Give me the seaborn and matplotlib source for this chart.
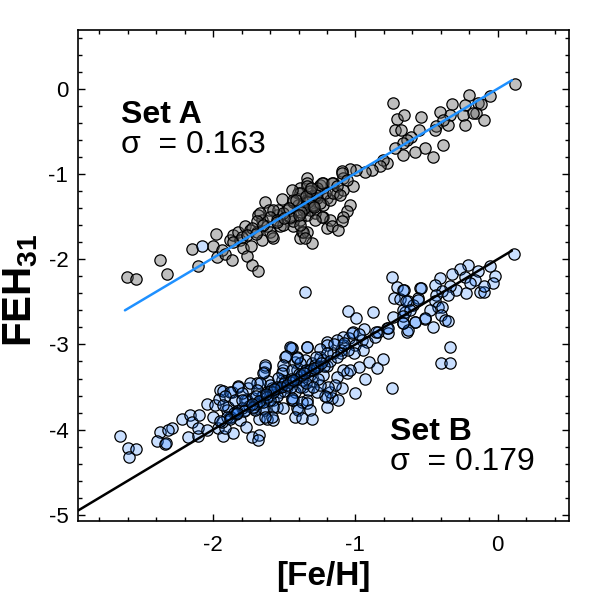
import matplotlib
matplotlib.use("Agg")
import matplotlib.pyplot as plt
import seaborn as sns
import pandas as pd
from matplotlib.ticker import MultipleLocator

# ---------------- data ----------------
setA_x = [-2.606, -2.543, -2.372, -2.325, -2.15, -2.107, -2.002, -1.981, -1.97, -1.939, -1.916, -1.869,
          -1.881, -1.857, -1.822, -1.81, -1.787, -1.764, -1.728, -1.682, -1.733, -1.775, -1.74, -1.693,
          -1.658, -1.682, -1.658, -1.635, -1.623, -1.6, -1.581, -1.605, -1.553, -1.542, -1.518, -1.53,
          -1.483, -1.46, -1.441, -1.436, -1.401, -1.389, -1.342, -1.342, -1.378, -1.342, -1.319, -1.389,
          -1.378, -1.389, -1.342, -1.307, -1.296, -1.261, -1.25, -1.226, -1.20, -1.202,
          0.119, -0.051, -0.204, -0.232, -0.138, -0.115, -0.15, -0.174, -0.243, -0.098, -0.227, -0.318,
          -0.337, -0.349, -0.407, -0.384, -0.43, -0.442, -0.384, -0.453, -0.512, -0.582, -0.54, -0.554,
          -0.606, -0.64, -0.665, -0.665, -0.723, -0.739, -0.711, -0.66, -0.723, -0.681, -0.781, -0.805,
          -0.828, -0.882, -0.933, -0.996, -1.039, -1.097, -1.086, -1.015, -1.226, -1.156, -1.132, -1.086,
          -1.342, -1.389, -1.319, -1.401, -1.366, -1.284, -1.226, -1.179, -1.214, -1.272, -1.237, -1.167,
          -1.156, -1.132, -1.097, -1.06, -1.109, -1.039, -1.062, -1.086, -1.097, -1.179, -1.237, -1.167,
          -1.121, -1.366, -1.354, -1.436, -1.46, -1.507, -1.577, -1.6, -1.507, -1.553, -1.67, -1.693,
          -1.728, -1.588, -1.307, -1.272, -1.342, -1.284, -1.389, -1.436, -1.448, -1.296,
          -1.33, -1.30, -1.36, -1.28, -1.32, -1.25, -1.38, -1.42, -1.35, -1.29, -1.40, -1.31,
          -1.86, -1.80, -1.76, -1.70, -1.65, -1.55, -1.50, -1.47]
setA_y = [-2.21, -2.234, -2.015, -2.168, -1.88, -2.085, -1.843, -1.71, -1.976, -1.89, -1.94, -2.007,
          -1.772, -1.714, -1.675, -1.772, -1.87, -1.968, -2.066, -2.136, -1.843, -1.616, -1.655, -1.675,
          -1.772, -1.479, -1.538, -1.323, -1.616, -1.675, -1.752, -1.42, -1.479, -1.42, -1.291, -1.616,
          -1.42, -1.518, -1.616, -1.323, -1.224, -1.166, -1.048, -1.10, -1.38, -1.30, -1.42, -1.538,
          -1.675, -1.752, -1.675, -1.811, -1.28, -1.205, -1.13, -1.5, -1.28, -1.635,
          0.055, -0.09, -0.078, -0.188, -0.168, -0.18, -0.285, -0.28, -0.305, -0.364, -0.43, -0.18,
          -0.305, -0.43, -0.274, -0.364, -0.442, -0.48, -0.665, -0.80, -0.696, -0.743, -0.336, -0.489,
          -0.56, -0.6, -0.64, -0.78, -0.696, -0.168, -0.352, -0.313, -0.48, -0.489, -0.872, -0.833,
          -0.904, -0.951, -0.982, -0.951, -0.939, -0.97, -1.05, -1.135, -1.107, -1.107, -1.225, -1.185,
          -1.146, -1.224, -1.303, -1.362, -1.42, -1.459, -1.362, -1.303, -1.224, -1.166, -1.107, -1.107,
          -1.224, -1.146, -0.989, -1.07, -1.244, -1.362, -1.44, -1.499, -1.557, -1.538, -1.499, -1.616,
          -1.663, -1.675, -1.752, -1.557, -1.499, -1.459, -1.42, -1.499, -1.596, -1.538, -1.459, -1.557,
          -1.635, -1.733, -1.264, -1.283, -1.479, -1.538, -1.596, -1.303, -1.185, -1.38,
          -1.33, -1.36, -1.40, -1.25, -1.20, -1.34, -1.45, -1.30, -1.26, -1.39, -1.48, -1.17,
          -1.80, -1.74, -1.72, -1.70, -1.60, -1.56, -1.52, -1.40]

setB_x = [-2.08, -1.354,
          -2.653, -2.601, -2.54, -2.594, -2.377, -2.395, -2.337, -2.33, -2.29, -2.314, -2.22, -2.161,
          -2.15, -2.098, -2.178, -2.107, -2.103, -2.044, -2.04, -1.986, -1.998, -1.963, -1.932, -1.862,
          -1.916, -1.939, -1.951, -1.956, -1.928, -1.869, -1.822, -1.893, -1.876, -1.834, -1.81, -1.768,
          -1.728, -1.675, -1.682, -1.752, -1.764, -1.717, -1.693, -1.67, -1.647, -1.635, -1.675, -1.623,
          -1.581, -1.635, -1.64, -1.612, -1.588, -1.577, -1.553, -1.53, -1.507, -1.495, -1.455, -1.518,
          -1.483, -1.448, -1.436, -1.413, -1.413, -1.425,
          -0.746, -0.711, -0.66, -0.547, -0.73, -0.688, -0.629, -0.559, -0.653, -0.582, -0.512, -0.735,
          -0.665, -0.637, -1.055, -0.879, -0.996, -0.94, -1.015, -1.046, -0.956, -0.921, -0.863, -0.84,
          -0.781, -0.77, -1.004, -0.95, -1.008, -1.086, -1.104, -1.05, -0.903, -0.847, -0.805, -0.975,
          -0.933, -1.004, -0.746, -1.097, -1.062, -1.086, -1.04, -1.132, -1.202, -1.167, -1.121, -1.179,
          -1.144, -1.191, -1.202, -1.156, -1.226, -1.261, -1.342, -1.448, -1.413, -1.354, -1.307, -1.319,
          -1.389, -1.366, -1.425, -1.342, -1.436, -1.086, -1.132, -1.027, -0.975, -0.854, -0.77, -0.665,
          -0.594,
          0.114, -0.051, -0.021, -0.033, -0.138, -0.161, -0.126, -0.098, -0.096, -0.208, -0.267, -0.318,
          -0.232, -0.196, -0.225, -0.29, -0.337, -0.407, -0.442, -0.388, -0.349, -0.43, -0.442, -0.419,
          -0.39, -0.477, -0.395, -0.372, -0.349, -0.453, -0.512, -0.582, -0.559, -0.542, -0.665, -0.641,
          -0.617, -0.665, -0.63, -0.665, -0.337, -0.395, -0.337,
          -1.46, -1.342, -1.488, -1.635, -1.647, -1.507, -1.518, -1.448, -1.389, -1.342, -1.284, -1.249,
          -1.202, -1.226, -1.307, -1.378, -1.436, -1.495, -1.542, -1.6, -1.67, -1.74, -1.822, -1.881,
          -1.916, -1.846, -1.775, -1.717, -1.658, -1.6, -1.448, -1.378, -1.342, -1.319, -1.401, -1.425,
          -1.378, -1.307, -1.507, -1.577, -1.647, -1.705, -1.775, -1.834, -1.904, -1.928, -1.881, -1.588,
          -1.635, -1.202, -1.202, -1.214, -1.389, -1.33, -1.272, -1.249, -1.413, -1.542, -1.693, -1.80,
          -1.25, -1.2, -1.15, -1.1, -1.18, -1.13, -1.22, -1.28, -1.08, -1.3, -1.26, -1.35, -1.3, -1.45,
          -1.5, -1.55, -1.6, -1.65, -1.7, -1.75, -1.8, -1.85, -1.9, -1.95, -1.6, -1.5, -1.4, -1.45,
          -1.55, -1.7, -1.8, -1.35,
          -1.58, -1.52, -1.46, -1.42, -1.38, -1.32, -1.27, -1.62, -1.68, -1.72, -1.78, -1.84, -1.88,
          -1.48, -1.44, -1.36, -1.29, -1.24, -1.57, -1.63, -1.73, -1.83]
setB_y = [-1.84, -2.39,
          -4.073, -4.217, -4.229, -4.316, -4.022, -4.128, -4.167, -4.16, -3.983, -4.003, -3.873, -3.834,
          -3.912, -3.826, -4.088, -4.073, -3.983, -4.003, -3.70, -3.709, -3.846, -3.983, -4.073, -4.034,
          -3.983, -3.905, -3.533, -3.638, -3.541, -3.553, -3.486, -3.729, -3.846, -3.806, -3.885, -3.964,
          -4.081, -4.061, -4.12, -3.513, -3.65, -3.748, -3.455, -3.67, -3.592, -3.768, -3.877, -3.877,
          -3.885, -3.26, -3.326, -3.435, -3.513, -3.65, -3.729, -3.553, -3.298, -3.142, -3.044, -3.416,
          -3.494, -3.65, -3.435, -3.748, -3.298, -3.201,
          -2.203, -2.328, -2.359, -2.339, -2.457, -2.465, -2.496, -2.457, -2.614, -2.738, -2.70, -2.68,
          -2.75, -2.849, -2.602, -2.614, -2.691, -2.817, -2.849, -2.919, -2.946, -2.966, -2.914, -2.849,
          -2.809, -2.868, -3.005, -3.063, -3.103, -3.005, -3.063, -3.071, -3.212, -3.278, -3.173, -3.267,
          -3.407, -3.565, -3.513, -3.506, -3.337, -3.298, -3.298, -3.377, -3.619, -3.631, -3.65, -3.553,
          -3.474, -3.494, -2.966, -3.103, -3.181, -3.259, -3.032, -3.044, -3.142, -3.181, -3.22, -3.357,
          -3.377, -3.494, -3.553, -3.65, -3.65, -2.914, -2.946, -2.868, -2.88, -2.85, -2.81, -2.594,
          -2.535,
          -1.937, -2.077, -2.195, -2.28, -2.144, -2.242, -2.379, -2.39, -2.312, -2.066, -2.116, -2.175,
          -2.203, -2.28, -2.398, -2.359, -2.32, -2.222, -2.30, -2.371, -2.418, -2.418, -2.496, -2.555,
          -2.56, -2.594, -2.653, -2.711, -2.72, -2.79, -2.691, -2.742, -2.477, -2.339, -2.359, -2.496,
          -2.594, -2.672, -2.829, -2.75, -3.032, -3.22, -3.22,
          -3.032, -3.025, -3.134, -3.239, -3.33, -3.239, -3.337, -3.298, -3.22, -3.318, -3.239, -3.142,
          -3.259, -3.357, -3.435, -3.416, -3.435, -3.435, -3.513, -3.474, -3.455, -3.455, -3.494, -3.553,
          -3.611, -3.65, -3.65, -3.631, -3.611, -3.592, -3.631, -3.67, -3.689, -3.768, -3.768, -3.846,
          -3.865, -3.877, -3.748, -3.729, -3.748, -3.768, -3.768, -3.787, -3.768, -3.709, -3.846, -3.846,
          -3.846, -3.729, -3.005, -3.611, -3.494, -3.53, -3.553, -3.474, -3.161, -3.396, -3.533, -3.57,
          -3.05, -3.1, -3.0, -3.1, -3.2, -3.15, -3.25, -3.15, -2.98, -3.3, -3.4, -3.45, -3.5, -3.5,
          -3.55, -3.6, -3.65, -3.68, -3.7, -3.72, -3.75, -3.8, -3.85, -3.9, -3.55, -3.45, -3.35, -3.4,
          -3.5, -3.6, -3.65, -3.3,
          -3.56, -3.50, -3.44, -3.40, -3.36, -3.30, -3.26, -3.62, -3.66, -3.74, -3.78, -3.82, -3.88,
          -3.48, -3.42, -3.34, -3.28, -3.22, -3.52, -3.58, -3.70, -3.80]

fitA_x = [-2.62, 0.10]
fitA_y = [-2.60, 0.10]
fitB_x = [-2.95, 0.10]
fitB_y = [-4.95, -1.90]

labelA = ["Set A", "\u03c3  = 0.163"]
labelB = ["Set B", "\u03c3  = 0.179"]

# ---------------- style ----------------
sns.set_theme(style="ticks")
FONT = ["Liberation Sans", "DejaVu Sans"]
plt.rcParams["font.family"] = FONT
plt.rcParams["mathtext.fontset"] = "custom"
plt.rcParams["mathtext.rm"] = "Liberation Sans"
plt.rcParams["mathtext.bf"] = "Liberation Sans:bold"
plt.rcParams["mathtext.it"] = "Liberation Sans:italic"
plt.rcParams["axes.unicode_minus"] = False
plt.rcParams["text.color"] = "black"
plt.rcParams["axes.labelcolor"] = "black"
plt.rcParams["xtick.color"] = "black"
plt.rcParams["ytick.color"] = "black"

fig = plt.figure(figsize=(6, 6), dpi=100)
ax = fig.add_axes([0.130, 0.132, 0.818, 0.818])

dfA = pd.DataFrame({"x": setA_x, "y": setA_y})
dfB = pd.DataFrame({"x": setB_x, "y": setB_y})

sns.scatterplot(data=dfA, x="x", y="y", ax=ax, s=66, color="gray",
                edgecolor="black", linewidth=0.9, zorder=2, legend=False)
collA = ax.collections[-1]
collA.set_facecolor((0.38, 0.38, 0.38, 0.40))
collA.set_edgecolor((0, 0, 0, 1))

sns.scatterplot(data=dfB, x="x", y="y", ax=ax, s=66, color="lightblue",
                edgecolor="black", linewidth=0.9, zorder=3, legend=False)
collB = ax.collections[-1]
collB.set_facecolor((0.12, 0.48, 1.0, 0.24))
collB.set_edgecolor((0, 0, 0, 1))

sns.lineplot(x=fitA_x, y=fitA_y, ax=ax, color="#1e90ff", linewidth=1.8, zorder=4)
sns.lineplot(x=fitB_x, y=fitB_y, ax=ax, color="black", linewidth=1.8, zorder=4)

ax.set_xlim(-2.95, 0.5)
ax.set_ylim(-5.07, 0.69)

ax.xaxis.set_major_locator(MultipleLocator(1))
ax.xaxis.set_minor_locator(MultipleLocator(0.2))
ax.yaxis.set_major_locator(MultipleLocator(1))
ax.yaxis.set_minor_locator(MultipleLocator(0.2))
ax.tick_params(which="both", direction="in", top=True, right=True, colors="black", width=1)
ax.tick_params(which="major", length=5, labelsize=16)
ax.tick_params(which="minor", length=2.7)
ax.tick_params(axis="x", which="major", pad=10)
ax.tick_params(axis="y", which="major", pad=7)
for sp in ax.spines.values():
    sp.set_color("black")
    sp.set_linewidth(1.2)

ax.set_xlabel("[Fe/H]", fontsize=24, fontweight="bold", labelpad=4)
ax.set_ylabel(r"$\mathbf{FEH}_{\mathbf{31}}$", fontsize=29)
ax.yaxis.set_label_coords(-0.078, 0.47)

ax.text(-2.648, -0.403, labelA[0], fontsize=23, fontweight="bold", ha="left", va="baseline")
ax.text(-2.648, -0.748, labelA[1], fontsize=23, ha="left", va="baseline")
ax.text(-0.758, -4.12, labelB[0], fontsize=23, fontweight="bold", ha="left", va="baseline")
ax.text(-0.758, -4.472, labelB[1], fontsize=23, ha="left", va="baseline")

fig.savefig("out.png", dpi=100, facecolor="white")
